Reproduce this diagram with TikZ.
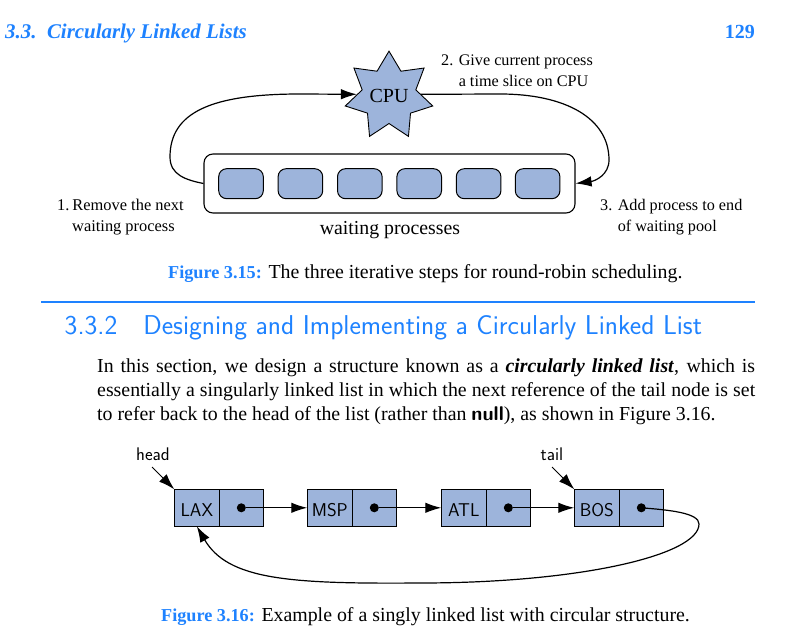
\documentclass[tikz,border=0pt]{standalone}
\usepackage{fontspec}
\setmainfont{Liberation Serif}
\usetikzlibrary{shapes.geometric,arrows.meta}
\definecolor{fillblue}{HTML}{9DB4DB}
\definecolor{headblue}{HTML}{1E82FF}
\newcommand{\figlab}[1]{\textcolor{headblue}{\bfseries\fontsize{18.2}{18.2}\selectfont #1}}
\tikzset{
  x=1pt,y=-1pt,
  tipa/.style={-{Latex[length=16pt,width=10.5pt]}},
  conn/.style={line width=1.2pt,tipa},
  plainline/.style={line width=1.2pt},
  proc/.style={draw,line width=1pt,fill=fillblue,rounded corners=8pt,minimum width=44.6pt,minimum height=30pt,inner sep=0pt},
  cell/.style={draw,line width=0.8pt,fill=fillblue,minimum height=37pt,inner sep=0pt,outer sep=0pt,text height=16.4pt,text depth=0pt,font=\sffamily\fontsize{18.5}{18.5}\selectfont},
  cella/.style={cell,minimum width=45pt},
  cellb/.style={cell,minimum width=44.4pt},
  dotn/.style={circle,fill=black,minimum size=9pt,inner sep=0pt},
  lab/.style={align=left,anchor=west,inner sep=0pt,font=\fontsize{16.2}{21}\selectfont},
  ptrlab/.style={inner sep=0pt,font=\sffamily\fontsize{18.3}{18.3}\selectfont},
  captn/.style={inner sep=0pt,anchor=base west,font=\fontsize{19.85}{19.85}\selectfont},
  bodyt/.style={inner sep=0pt,anchor=base west,font=\fontsize{19.85}{19.85}\selectfont},
}
\begin{document}
\begin{tikzpicture}
\useasboundingbox (0,0) rectangle (789,636);
% header
\node[inner sep=0pt,anchor=base west,text=headblue,font=\bfseries\itshape\fontsize{20.9}{20.9}\selectfont] (hd) at (5,38.5) {3.3.\ \ Circularly Linked Lists};
\node[inner sep=0pt,anchor=base east,text=headblue,font=\bfseries\fontsize{20}{20}\selectfont] (pg) at (755,38.5) {129};
% CPU star
\node[star,star points=7,star point ratio=1.63,minimum size=88pt,inner sep=0pt,draw,line width=0.9pt,fill=fillblue,font=\fontsize{20}{20}\selectfont] (cpu) at (389,96) {CPU};
% pool
\node[draw,line width=1.1pt,rounded corners=9pt,minimum width=371pt,minimum height=59pt,inner sep=0pt] (pool) at (389.5,183.5) {};
\foreach \n/\x in {a/241,b/300.4,c/359.8,d/419.2,e/478.6,f/537.6}{
  \node[proc] (p\n) at (\x,183.7) {};
}
\draw[plainline,tipa] (pool.west) .. controls (186,180) and (170,175) .. (170,157) .. controls (170,112) and (212,94) .. (300,94) -- (cpu.177);
\draw[plainline,tipa] (cpu.3) -- (500,94) .. controls (565,94) and (609,118) .. (609,160) .. controls (609,175) and (595,181) .. (pool.east);
\node[inner sep=0pt,font=\fontsize{19.8}{19.8}\selectfont] (wp) at (390,230) {waiting processes};
\node[lab,font=\fontsize{16.4}{21}\selectfont] (l1) at (57,217) {1.\hspace{3pt}Remove the next\\\hspace{15pt}waiting process};
\node[lab] (l2) at (441,71) {2. Give current process\\\hphantom{2. }a time slice on CPU};
\node[lab] (l3) at (600,217) {3. Add process to end\\\hphantom{3. }of waiting pool};
\node[captn] (c15) at (168,278) {\figlab{Figure 3.15:} The three iterative steps for round-robin scheduling.};
% rule and section
\coordinate (ra) at (41,302);
\coordinate (rb) at (755,302);
\draw[line width=1.7pt,headblue] (ra) -- (rb);
\node[inner sep=0pt,anchor=base west,text=headblue,font=\sffamily\fontsize{27.25}{27.25}\selectfont] (sec) at (64.5,334) {3.3.2\hspace{26pt}Designing and Implementing a Circularly Linked List};
% body
\node[bodyt] (b1) at (97,372.5) {\hbox to 658pt{In this section, we design a structure known as a \textbf{\textit{circularly linked list}}, which is}};
\node[bodyt] (b2) at (97,396.5) {\hbox to 658pt{essentially a singularly linked list in which the next reference of the tail node is set}};
\node[bodyt] (b3) at (97,420.5) {to refer back to the head of the list (rather than {\sffamily\bfseries null}), as shown in Figure 3.16.};
% list
\foreach \n/\t/\x in {a/LAX/174.3,b/MSP/307.3,c/ATL/441.3,d/BOS/574.3}{
  \node[cella,anchor=west] (k\n) at (\x,507.8) {\t};
  \node[cellb,anchor=west] (r\n) at (\x+45,507.8) {};
  \node[dotn] (d\n) at (\x+67,507.8) {};
}
\draw[conn] (da) -- (kb.west);
\draw[conn] (db) -- (kc.west);
\draw[conn] (dc) -- (kd.west);
\draw[conn] (dd.center) .. controls (670,510) and (699,513) .. (699,524) .. controls (699,555) and (580,583) .. (420,583) .. controls (290,584) and (228,580) .. (ka.south);
\node[ptrlab] (h) at (153,454) {head};
\node[ptrlab] (t) at (552,454) {tail};
\coordinate (hs) at (152,467);
\coordinate (ts) at (552,467);
\draw[conn,line width=0.9pt] (hs) -- (ka.north west);
\draw[conn,line width=0.9pt] (ts) -- (kd.north west);
\node[captn] (c16) at (161,621.5) {\figlab{Figure 3.16:} Example of a singly linked list with circular structure.};
\end{tikzpicture}
\end{document}
